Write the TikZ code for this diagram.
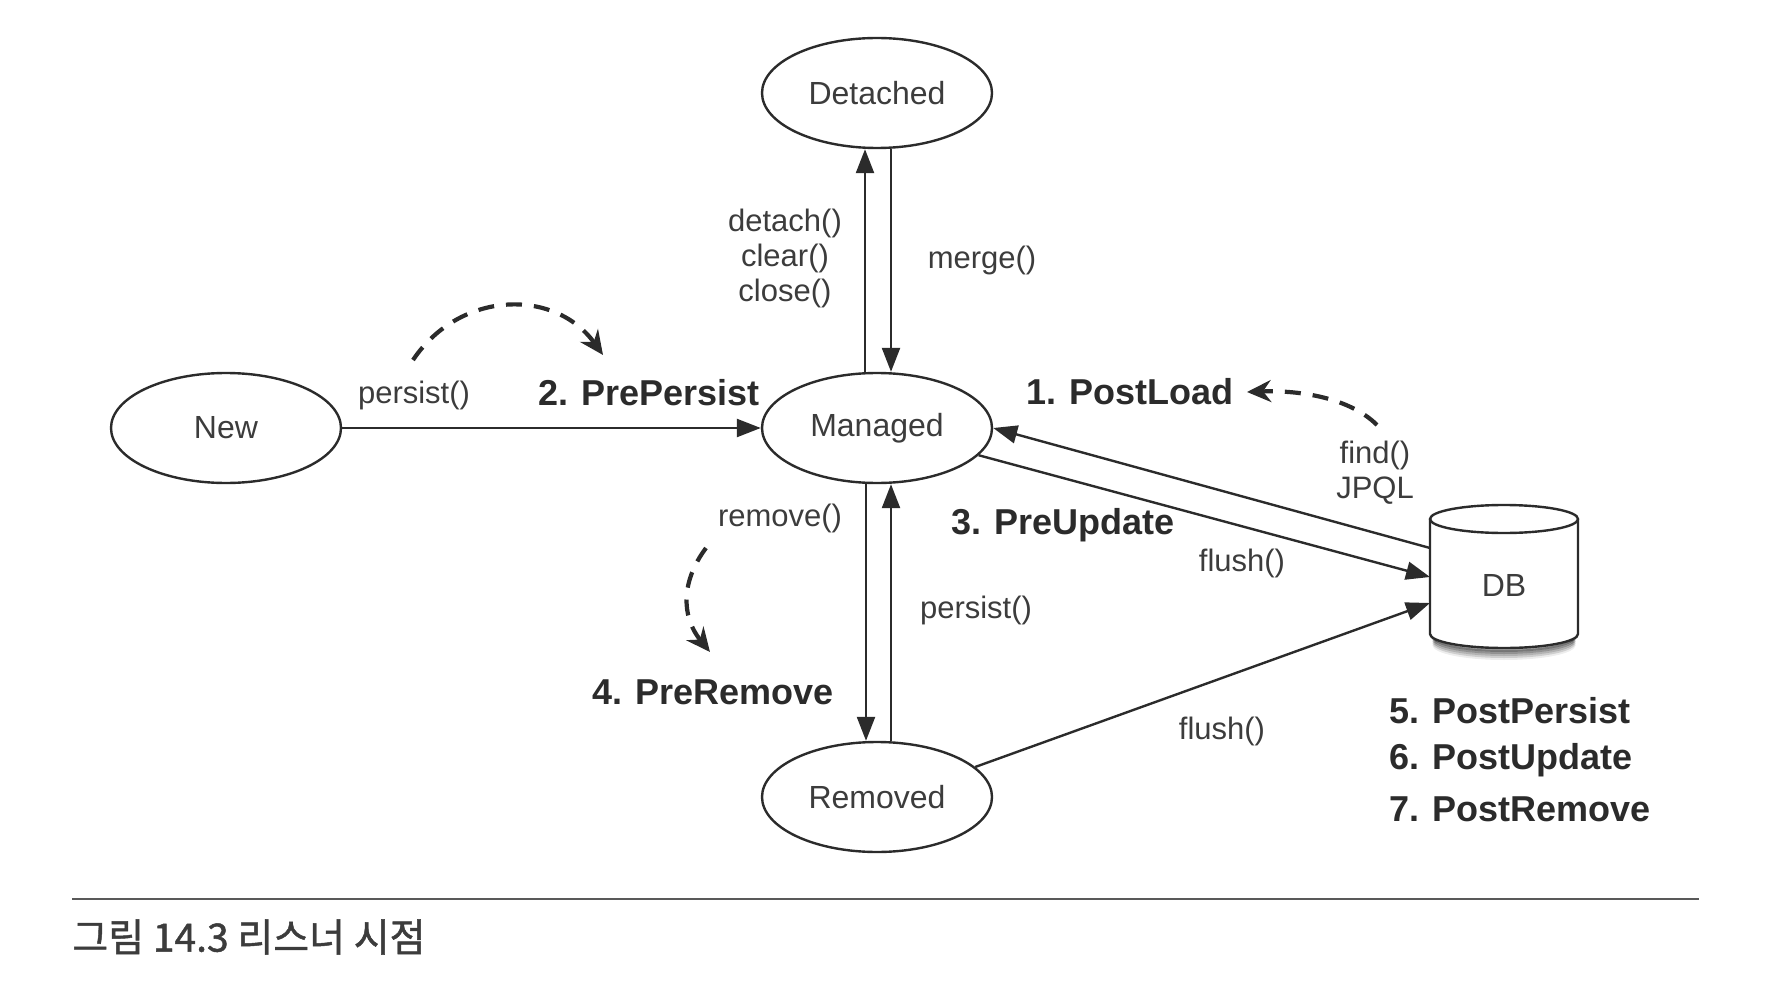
\documentclass[tikz,border=0pt]{standalone}
\usepackage{fontspec}
\setmainfont{Liberation Sans}
\newfontfamily\krfont[FakeBold=1.2]{Noto Sans CJK KR}
\usetikzlibrary{shapes.geometric,arrows.meta,calc}
\definecolor{ln}{HTML}{2B2B2B}
\definecolor{tx}{HTML}{3C3C3C}
\begin{document}
\begin{tikzpicture}[x=0.5pt,y=-0.5pt,
  state/.style={ellipse,draw=ln,line width=1.2pt,minimum width=115pt,minimum height=55pt,inner sep=0pt,font=\fontsize{16}{19}\selectfont,text=tx},
  conn/.style={draw=ln,line width=1.2pt,-{Triangle[length=12pt,width=9pt]}},
  lbl/.style={text=tx,font=\fontsize{15.5}{17.5}\selectfont,inner sep=0pt,align=center},
  evt/.style={text=ln,font=\fontsize{18}{24}\selectfont\bfseries,inner sep=0pt},
  dsh/.style={draw=ln,line width=2.1pt,dash pattern=on 8pt off 6pt,-{Stealth[length=12pt,width=11pt,inset=4pt]}}]
\useasboundingbox (0,0) rectangle (1778,1000);

% states
\node[state] (detached) at (877,93) {Detached};
\node[state] (managed) at (877,428) {Managed};
\node[state] (new) at (226,428) {New};
\node[state] (removed) at (877,797) {Removed};

% DB cylinder
\foreach \i/\o in {1/0.35,2/0.28,3/0.2,4/0.13,5/0.07}
  \draw[black,line width=2pt,opacity=\o] (1434,{634+\i*2}) arc[start angle=180,end angle=0,x radius=70,y radius=14];
\path[draw=ln,line width=1.2pt,fill=white] (1430,519) -- (1430,634) arc[start angle=180,end angle=0,x radius=74,y radius=14] -- (1578,519);
\draw[ln,line width=1.2pt,fill=white] (1504,519) ellipse [x radius=74, y radius=14];
\node[font=\fontsize{16}{19}\selectfont,text=tx] (db) at (1504,585) {DB};
\coordinate (dbA) at (1430,548);
\coordinate (dbB) at (1430,577);
\coordinate (dbC) at (1430,603);

% connectors
\draw[conn] (new) -- (managed);
\draw[conn] ($(managed.north)+(-12,0)$) -- ($(detached.south)+(-12,0)$);
\draw[conn] ($(detached.south)+(14,0)$) -- ($(managed.north)+(14,0)$);
\draw[conn] ($(managed.south)+(-11,0)$) -- ($(removed.north)+(-11,0)$);
\draw[conn] ($(removed.north)+(14,0)$) -- ($(managed.south)+(14,0)$);
\draw[conn] (dbA) -- (managed.east);
\draw[conn] (managed.-15) -- (dbB);
\draw[conn] (removed.17) -- (dbC);

% dashed callback arrows
\coordinate (pp1) at (413,360);
\coordinate (pp2) at (603,355);
\draw[dsh] (pp1) .. controls (460,290) and (555,288) .. (pp2);
\coordinate (pl1) at (1377,425);
\coordinate (pl2) at (1247,392);
\draw[dsh] (pl1) .. controls (1350,398) and (1300,390) .. (pl2);
\coordinate (pr1) at (706,548);
\coordinate (pr2) at (710,652);
\draw[dsh] (pr1) .. controls (682,580) and (680,615) .. (pr2);

% labels
\node[lbl] (lDet) at (785,258) {detach()\\clear()\\close()};
\node[lbl] (lMerge) at (982,260) {merge()};
\node[lbl] (lPers1) at (414,395) {persist()};
\node[evt] (e2) at (649,393) {2. PrePersist};
\node[evt] (e1) at (1130,392) {1. PostLoad};
\node[lbl] (lFind) at (1375,473) {find()\\JPQL};
\node[evt] (e3) at (1063,525) {3. PreUpdate};
\node[lbl] (lFlush1) at (1242,563) {flush()};
\node[lbl] (lRemove) at (780,518) {remove()};
\node[lbl] (lPers2) at (976,610) {persist()};
\node[evt] (e4) at (713,692) {4. PreRemove};
\node[lbl] (lFlush2) at (1222,731) {flush()};
\node[evt,anchor=west] (e5) at (1389,711) {5. PostPersist};
\node[evt,anchor=west] (e6) at (1389,760) {6. PostUpdate};
\node[evt,anchor=west] (e7) at (1389,809) {7. PostRemove};

% caption
\draw[line width=1.3pt,draw=black!65] (72,899) -- (1699,899);
\node[anchor=west,inner sep=0pt,font=\krfont\fontsize{19.5}{22}\selectfont,text=tx] (cap) at (72,937) {그림 14.3 리스너 시점};
\end{tikzpicture}
\end{document}
